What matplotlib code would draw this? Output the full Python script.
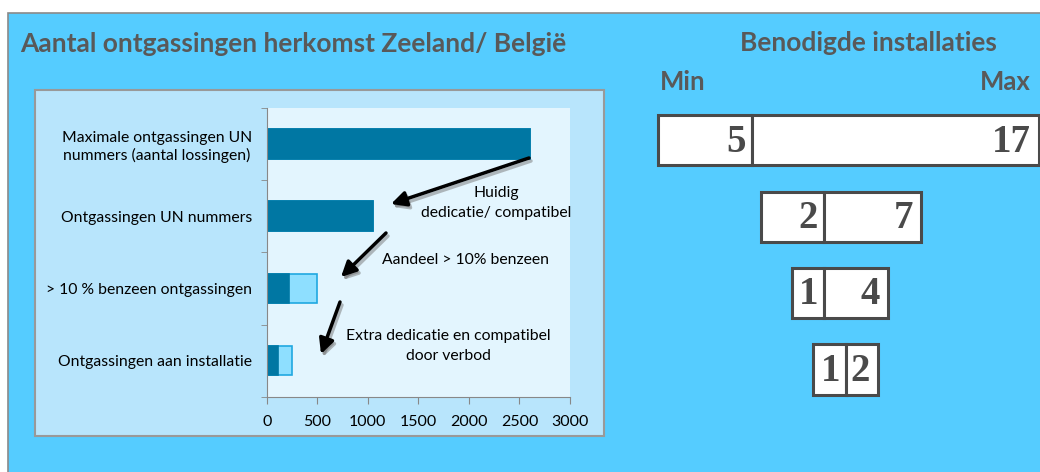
import matplotlib
matplotlib.use("Agg")
import matplotlib.pyplot as plt
from matplotlib.patches import Rectangle

# ---- data ----
categories = ["Maximale ontgassingen UN\nnummers (aantal lossingen)",
              "Ontgassingen UN nummers",
              "> 10 % benzeen ontgassingen",
              "Ontgassingen aan installatie"]
dark_values = [2600, 1050, 220, 115]
total_values = [2600, 1050, 500, 250]
xticks = [0, 500, 1000, 1500, 2000, 2500, 3000]
title_left = "Aantal ontgassingen herkomst Zeeland/ België"
title_right = "Benodigde installaties"
min_values = [5, 2, 1, 1]
max_values = [17, 7, 4, 2]
arrow_labels = ["Huidig\ndedicatie/ compatibel",
                "Aandeel > 10% benzeen",
                "Extra dedicatie en compatibel\ndoor verbod"]

W, H = 1040, 472
fig = plt.figure(figsize=(W / 100, H / 100), dpi=100)
fig.patch.set_facecolor("white")

# background layer in pixel coords (y downward)
bg = fig.add_axes([0, 0, 1, 1])
bg.set_xlim(0, W)
bg.set_ylim(H, 0)
bg.axis("off")
bg.set_zorder(0)
bg.add_patch(Rectangle((8, 13), W, H, facecolor="#55CCFF", edgecolor="#8a8a8a", lw=1.2))
bg.add_patch(Rectangle((35, 90), 569, 346, facecolor="#B8E5FC", edgecolor="#999999", lw=1.5))

grey = "#595959"
bg.text(20, 44, title_left, fontsize=19, fontweight="bold", color=grey,
        family="Lato", va="center", ha="left")
bg.text(868, 43, title_right, fontsize=19, fontweight="bold", color=grey,
        family="Lato", va="center", ha="center")
bg.text(660, 82, "Min", fontsize=18.5, fontweight="bold", color=grey,
        family="Lato", va="center", ha="left")
bg.text(1031, 82, "Max", fontsize=18.5, fontweight="bold", color=grey,
        family="Lato", va="center", ha="right")

# installation boxes: (left, divider, right, top, bottom)
box_layout = [(658, 752, 1039, 115, 165),
              (761, 824, 921, 192, 242),
              (792, 824, 888, 268, 318),
              (813, 846, 878, 344, 395)]
numcol = "#4a4a4a"
for (l, d, r, t, b), mn, mx in zip(box_layout, min_values, max_values):
    bg.add_patch(Rectangle((l, t), d - l, b - t, facecolor="white", edgecolor=numcol, lw=2.2))
    bg.add_patch(Rectangle((d, t), r - d, b - t, facecolor="white", edgecolor=numcol, lw=2.2))
    yc = (t + b) / 2 + 2
    bg.text(d - 6, yc, str(mn), fontsize=28, fontweight="bold", family="Liberation Serif",
            color=numcol, ha="right", va="center")
    bg.text(r - 8, yc, str(mx), fontsize=28, fontweight="bold", family="Liberation Serif",
            color=numcol, ha="right", va="center")

# ---- bar chart ----
x0, x1, y0, y1 = 266.7, 570, 108, 396.7
ax = fig.add_axes([x0 / W, 1 - y1 / H, (x1 - x0) / W, (y1 - y0) / H])
ax.set_zorder(1)
ax.set_facecolor("#E3F5FE")
ypos = list(range(len(categories)))
ax.barh(ypos, total_values, height=0.41, color="#8EDFFF", edgecolor="#20A8E0", lw=1.2)
ax.barh(ypos, dark_values, height=0.41, color="#0077A3", edgecolor="#0077A3", lw=1.2)
ax.set_xlim(0, 3000)
ax.set_ylim(3.5, -0.5)
ax.set_xticks(xticks)
ax.set_xticklabels([str(v) for v in xticks], fontsize=11.5, family="Lato")
ax.set_yticks(ypos)
ax.set_yticklabels(categories, fontsize=11.3, family="Lato", ha="right")
ax.tick_params(axis="y", length=0, pad=10.6)
ax.set_yticks([-0.5, 0.5, 1.5, 2.5, 3.5], minor=True)
ax.tick_params(axis="y", which="minor", length=4, color="#888888")
ax.tick_params(axis="x", length=5, color="#888888", pad=8)
for s in ["top", "right"]:
    ax.spines[s].set_visible(False)
for s in ["left", "bottom"]:
    ax.spines[s].set_color("#888888")
for lab in ax.get_yticklabels():
    lab.set_multialignment("center")

# foreground overlay for arrows and notes
fg = fig.add_axes([0, 0, 1, 1])
fg.set_xlim(0, W)
fg.set_ylim(H, 0)
fg.axis("off")
fg.set_zorder(2)
fg.patch.set_alpha(0)

arrows = [((529, 158), (391, 204)),
          ((386, 233), (341, 277)),
          ((340, 302), (321, 354))]
style = "-|>,head_length=0.9,head_width=0.45"
for (sx, sy), (ex, ey) in arrows:
    fg.annotate("", xy=(ex + 2, ey + 3), xytext=(sx + 2, sy + 3),
                arrowprops=dict(arrowstyle=style, color="#777777", lw=2.5, alpha=0.5,
                                shrinkA=0, shrinkB=0))
    fg.annotate("", xy=(ex, ey), xytext=(sx, sy),
                arrowprops=dict(arrowstyle=style, color="black", lw=2.5,
                                shrinkA=0, shrinkB=0))

fg.text(496, 203, arrow_labels[0], fontsize=11.3, family="Lato", ha="center", va="center",
        linespacing=1.5)
fg.text(465, 260, arrow_labels[1], fontsize=11.3, family="Lato", ha="center", va="center")
fg.text(448, 346, arrow_labels[2], fontsize=11.3, family="Lato", ha="center", va="center",
        linespacing=1.5)

fig.savefig("out.png", dpi=100)
